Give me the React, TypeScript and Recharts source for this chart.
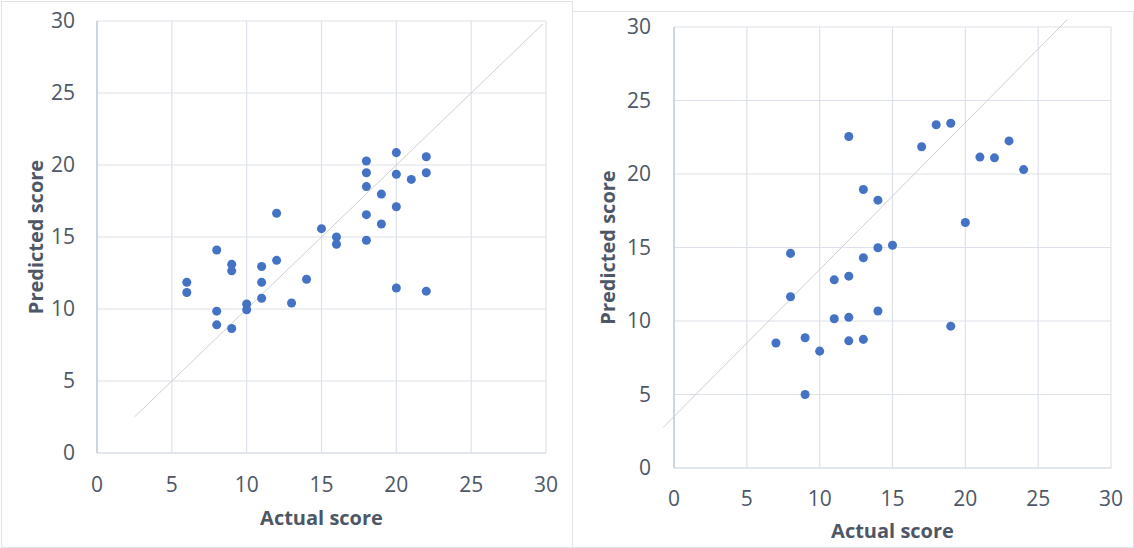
import React from 'react';
import {
  ScatterChart,
  Scatter,
  XAxis,
  YAxis,
  ZAxis,
  CartesianGrid,
  ReferenceLine,
} from 'recharts';

// Model A: actual vs predicted scores
const actualA = [6, 6, 8, 8, 8, 9, 9, 9, 10, 10, 11, 11, 11, 12, 12, 13, 14, 15, 16, 16, 18, 18, 18, 18, 18, 19, 19, 20, 20, 20, 20, 21, 22, 22, 22];
const predictedA = [11.85, 11.15, 14.1, 9.85, 8.9, 13.1, 12.65, 8.65, 10.35, 9.95, 12.95, 11.85, 10.75, 16.65, 13.38, 10.42, 12.07, 15.58, 15.0, 14.5, 20.28, 19.46, 18.5, 16.55, 14.77, 17.98, 15.9, 20.86, 19.36, 17.1, 11.46, 19.0, 20.57, 19.46, 11.24];

// Model B: actual vs predicted scores
const actualB = [7, 8, 8, 9, 9, 10, 11, 11, 12, 12, 12, 12, 13, 13, 13, 14, 14, 14, 15, 17, 18, 19, 19, 20, 21, 22, 23, 24];
const predictedB = [8.5, 14.6, 11.65, 8.86, 5.0, 7.95, 12.8, 10.15, 22.55, 13.05, 10.25, 8.65, 18.95, 14.3, 8.75, 18.22, 14.98, 10.68, 15.15, 21.85, 23.35, 23.45, 9.65, 16.7, 21.15, 21.1, 22.25, 20.3];

const ticks = [0, 5, 10, 15, 20, 25, 30];

// Reference diagonals (start / end points in data units)
const diagonalA = [{ x: 2.5, y: 2.5 }, { x: 29.8, y: 29.8 }];
const diagonalB = [{ x: -0.75, y: 2.75 }, { x: 27, y: 30.5 }];

const toPoints = (xs: number[], ys: number[]) => xs.map((x, i) => ({ x, y: ys[i] }));

const FONT = '"Open Sans", "Noto Sans", sans-serif';
const TEXT = '#4d5766';
const GRID = '#dde2ea';
const DOT = '#4472C4';

type PanelProps = {
  data: { x: number; y: number }[];
  diagonal: { x: number; y: number }[];
  width: number;
  height: number;
  margin: { top: number; right: number; left: number; bottom: number };
  yAxisWidth: number;
  xAxisHeight: number;
  yTickGap: number;
  xTickGap: number;
  xTitleOffset: number;
  yTitleDx: number;
};

function Panel(p: PanelProps) {
  const tickStyle = { fontSize: 21, fill: TEXT, fontFamily: FONT };
  const titleStyle = { fontSize: 20, fill: TEXT, fontFamily: FONT, fontWeight: 700 };
  return (
    <ScatterChart width={p.width} height={p.height} margin={p.margin}>
      <CartesianGrid stroke={GRID} strokeWidth={1.2} />
      <XAxis
        type="number"
        dataKey="x"
        domain={[0, 30]}
        ticks={ticks}
        height={p.xAxisHeight}
        tickLine={false}
        tickSize={0}
        tickMargin={p.xTickGap}
        axisLine={{ stroke: '#d6dce5', strokeWidth: 1.2 }}
        tick={tickStyle}
        allowDataOverflow
        label={{ value: 'Actual score', position: 'insideBottom', offset: p.xTitleOffset, style: titleStyle }}
      />
      <YAxis
        type="number"
        dataKey="y"
        domain={[0, 30]}
        ticks={ticks}
        width={p.yAxisWidth}
        tickLine={false}
        tickSize={0}
        tickMargin={p.yTickGap}
        axisLine={{ stroke: '#c3ccd8', strokeWidth: 1.5 }}
        tick={tickStyle}
        allowDataOverflow
        label={{ value: 'Predicted score', angle: -90, position: 'center', dx: p.yTitleDx, style: titleStyle }}
      />
      <ZAxis range={[52, 52]} />
      <ReferenceLine segment={p.diagonal} stroke="#cfcfcf" strokeWidth={1} ifOverflow="visible" />
      <Scatter data={p.data} fill={DOT} isAnimationActive={false} />
    </ScatterChart>
  );
}

export default function App() {
  return (
    <div style={{ position: 'absolute', left: 0, top: 0, width: 1134, height: 548, background: '#fff', overflow: 'hidden' }}>
      <div style={{ position: 'absolute', left: 1, top: 1, width: 570, height: 545, border: '1px solid #dfe2e7' }} />
      <div style={{ position: 'absolute', left: 572, top: 11, width: 560, height: 535, border: '1px solid #dfe2e7' }} />
      <div style={{ position: 'absolute', left: 0, top: 0 }}>
        <Panel
          data={toPoints(actualA, predictedA)}
          diagonal={diagonalA}
          width={572}
          height={548}
          margin={{ top: 21, right: 26, left: 0, bottom: 0 }}
          yAxisWidth={97}
          xAxisHeight={95}
          yTickGap={22}
          xTickGap={24}
          xTitleOffset={23}
          yTitleDx={-13}
        />
      </div>
      <div style={{ position: 'absolute', left: 572, top: 0 }}>
        <Panel
          data={toPoints(actualB, predictedB)}
          diagonal={diagonalB}
          width={562}
          height={548}
          margin={{ top: 27, right: 23, left: 0, bottom: 0 }}
          yAxisWidth={102}
          xAxisHeight={80}
          yTickGap={23}
          xTickGap={23}
          xTitleOffset={10}
          yTitleDx={-15}
        />
      </div>
    </div>
  );
}
